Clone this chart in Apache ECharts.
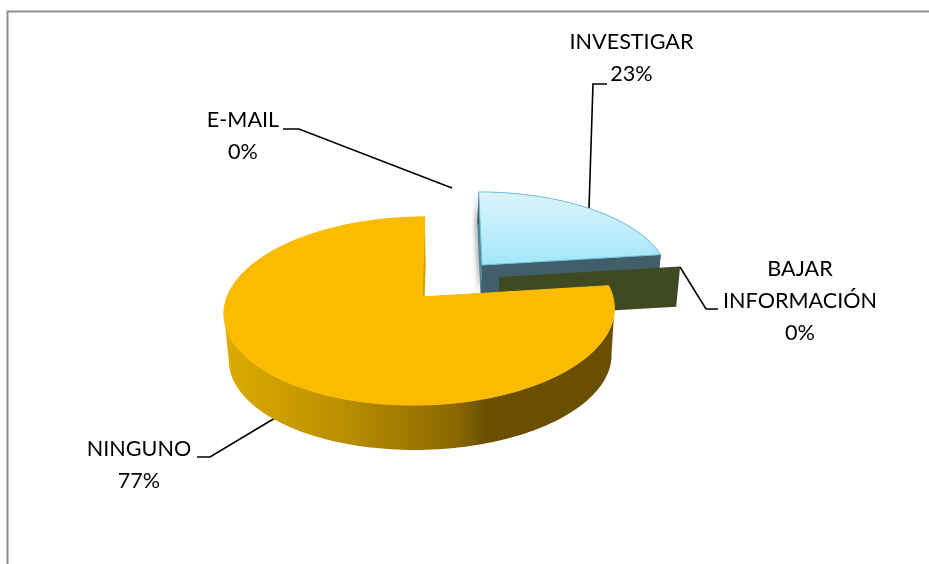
<!DOCTYPE html>
<html><head><meta charset="utf-8">
<style>html,body{margin:0;padding:0;background:#fff}#c{width:929px;height:564px}</style>
<script src="https://cdn.jsdelivr.net/npm/echarts@6/dist/echarts.min.js"></script>
</head><body><div id="c"></div>
<script>
const categories = ['E-MAIL', 'INVESTIGAR', 'BAJAR\nINFORMACIÓN', 'NINGUNO'];
const values = [0, 23, 0, 77];

// Layout and styling of each exploded slice (screen geometry of the tilted disc)
const sliceLayout = [
  null,
  {ax:482,ay:265,ox:0,R:184,Ry:84,p:0.149,shear:-0.045,dx:-1.5,dy:31,k:0.99,
   top:{type:'linear',x:0,y:191,x2:0,y2:265,global:true,colorStops:[{offset:0,color:'#def4fb'},{offset:1,color:'#a2e6fb'}]},
   edge:'#6fc3da',wall:'#405f6b',side:'#4f8598',outer:'#405f6b'},
  {ax:499,ay:277,ox:0,R:186,Ry:85,p:0.149,shear:0,dx:0,dy:40,k:0.978,
   top:'#3f4a22',edge:'#3f4a22',wall:'#3f4a22',side:'#3f4a22',outer:'#3f4a22'},
  {ax:422,ay:297,ox:-2,R:193,Ry:92,p:0.149,shear:0.06,dx:1,dy:47,k:0.98,
   top:'#fbbc00',edge:'#fbbc00',wall:'#d2a200',side:'#d2a200',
   outer:{type:'linear',x:228,y:0,x2:612,y2:0,global:true,colorStops:[
     {offset:0,color:'#dcab00'},{offset:0.3,color:'#b98e00'},{offset:0.6,color:'#8a6700'},{offset:0.67,color:'#6a4f00'},{offset:1,color:'#6a4f00'}]}}
];
const labelLayout = [
  {x:243,y:120,line:[[452,188],[299,129],[283,129]]},
  {x:631.5,y:42,line:[[589,208],[593,84],[607,84]]},
  {x:800,y:269,line:[[680,267],[706,309],[718,309]]},
  {x:139,y:449,line:[[275,418],[210,457],[197,457]]}
];
const fontName = 'Lato';
const fontSize = 21.6;
const lineGap = 32;

const total = values.reduce((a,b)=>a+b,0);
const TAU = Math.PI*2;
function startAngle(i){ let s=0; for(let j=0;j<i;j++) s+=values[j]; return s/total*TAU; }
function pt(L,a,lower){
  const u=Math.sin(a), v=-Math.cos(a), s=1/(1-L.p*v);
  const k=lower?L.k:1;
  const x0=L.R*u*s*k, y0=L.Ry*v*s*k;
  return [L.ax+L.ox+(lower?L.dx:0)+x0-L.shear*y0, L.ay+(lower?L.dy:0)+y0];
}
function arc(L,a0,a1,lower){
  const n=Math.max(1,Math.ceil((a1-a0)/TAU*240)), out=[];
  for(let i=0;i<=n;i++) out.push(pt(L,a0+(a1-a0)*i/n,lower));
  return out;
}
// part of a rim between its rightmost and its leftmost point: the side of the solid that faces the viewer
function frontRim(rim){
  let r=0,l=0;
  rim.forEach((p,n)=>{ if(p[0]>rim[r][0]) r=n; if(p[0]<rim[l][0]) l=n; });
  return rim.slice(Math.min(r,l),Math.max(r,l)+1);
}
function renderSlice(params,api){
  const i=params.dataIndex, L=sliceLayout[i], val=api.value(0);
  const kids=[];
  if(L){
    const a0=startAngle(i), a1=a0+val/total*TAU;
    const ax=[L.ax,L.ay], bx=[L.ax+L.dx,L.ay+L.dy];
    const top=arc(L,a0,a1,false), low=arc(L,a0,a1,true);
    if(val>0){
      kids.push({type:'polygon',shape:{points:[ax,pt(L,a0,false),pt(L,a0,true),bx]},style:{fill:L.side,shadowBlur:i===1?4:0,shadowColor:'rgba(0,0,0,.45)',shadowOffsetX:-2}});
      kids.push({type:'polygon',shape:{points:frontRim(top).concat(frontRim(low).reverse())},style:{fill:L.outer}});
    }
    kids.push({type:'polygon',shape:{points:[ax,pt(L,a1,false),pt(L,a1,true),bx]},style:{fill:L.wall}});
    if(val>0){
      kids.push({type:'polygon',shape:{points:[ax].concat(top)},style:{fill:L.top,stroke:L.edge,lineWidth:1}});
    }
  }
  return {type:'group',children:kids};
}
function renderLabel(params,api){
  const i=params.dataIndex, ll=labelLayout[i], val=api.value(0);
  const lines=categories[i].split('\n').concat([Math.round(val/total*100)+'%']);
  const kids=[{type:'polyline',shape:{points:ll.line},style:{stroke:'#000',lineWidth:1.6,fill:null}}];
  lines.forEach((t,n)=>kids.push({type:'text',style:{text:t,x:ll.x,y:ll.y+n*lineGap,align:'center',verticalAlign:'middle',
    fill:'#000',fontFamily:fontName,fontSize:fontSize}}));
  return {type:'group',children:kids};
}
const chart=echarts.init(document.getElementById('c'),null,{renderer:'canvas'});
chart.setOption({
  animation:false,
  backgroundColor:'#fff',
  graphic:[{type:'polyline',shape:{points:[[7.5,564],[7.5,11.5],[929,11.5]]},style:{stroke:'#8f8f8f',lineWidth:2,fill:null},z:0}],
  series:[
    {type:'custom',coordinateSystem:'none',renderItem:renderLabel,data:values.map(v=>[v]),z:1,silent:true},
    {type:'custom',coordinateSystem:'none',renderItem:renderSlice,data:values.map(v=>[v]),z:2,silent:true}
  ]
});
</script></body></html>
